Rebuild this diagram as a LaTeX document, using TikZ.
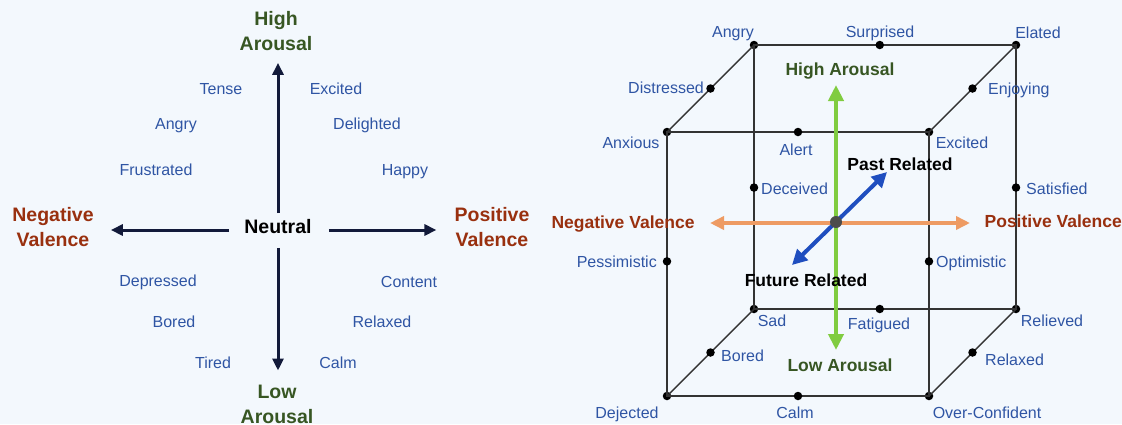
\documentclass[tikz,border=0pt]{standalone}
\usepackage{fontspec}
\setmainfont{Liberation Sans}
\usetikzlibrary{arrows.meta,calc}
\definecolor{bgc}{HTML}{F3F8FD}
\definecolor{lblblue}{HTML}{2F55A4}
\definecolor{dgreen}{HTML}{375623}
\definecolor{dred}{HTML}{99300F}
\definecolor{navyc}{HTML}{121A3A}
\definecolor{garrow}{HTML}{80CC40}
\definecolor{oarrow}{HTML}{EE9B63}
\definecolor{barrow}{HTML}{1F4EBF}
\definecolor{edgec}{HTML}{333333}
\tikzset{
  lbl/.style={font=\fontsize{16}{19}\selectfont, text=lblblue, inner sep=0pt, text height=0.72em, text depth=0pt, yshift=-3pt},
  bigl/.style={font=\bfseries\fontsize{19.5}{25}\selectfont, align=center, inner sep=0pt},
  cubel/.style={font=\bfseries\fontsize{17.5}{21}\selectfont, inner sep=0pt, text height=0.72em, text depth=0pt, yshift=-3pt},
  navyarr/.style={draw=navyc, line width=3pt, -{Triangle[length=12pt,width=11pt]}},
  vtx/.style={circle, fill=black, inner sep=0pt, minimum size=8.5pt},
  cedge/.style={draw=edgec, line width=1.4pt},
  garr/.style={draw=garrow, line width=4.5pt, {Triangle[length=16pt,width=15pt]}-{Triangle[length=16pt,width=15pt]}},
  oarr/.style={draw=oarrow, line width=4pt, {Triangle[length=14pt,width=13pt]}-{Triangle[length=14pt,width=13pt]}},
  barr/.style={draw=barrow, line width=4pt, {Triangle[length=15pt,width=15pt]}-{Triangle[length=15pt,width=15pt]}},
}
\begin{document}
\begin{tikzpicture}[x=1pt,y=-1pt]
\fill[bgc] (0,0) rectangle (1122,424);
\useasboundingbox (0,0) rectangle (1122,424);

% ---------------- Left panel ----------------
\node[bigl, text=dgreen] (hi) at (276,31) {High\\Arousal};
\node[bigl, text=black, text height=0.72em, text depth=0pt, yshift=-3pt] (neu) at (278,227) {Neutral};
\node[bigl, text=dgreen] (lo) at (277,404) {Low\\Arousal};
\node[bigl, text=dred] (neg) at (53,227) {Negative\\Valence};
\node[bigl, text=dred] (pos) at (492,227) {Positive\\Valence};

\draw[navyarr, shorten <=13pt, shorten >=12pt] (neu.north) -- (neu.north |- hi.south);
\draw[navyarr, shorten <=14pt, shorten >=14pt] (neu.south) -- (neu.south |- lo.north);
\draw[navyarr, shorten <=15pt, shorten >=17pt] (neu.west) -- (neu.west -| neg.east);
\draw[navyarr, shorten <=17pt, shorten >=18pt] (neu.east) -- (neu.east -| pos.west);

\node[lbl] (l1) at (221,88) {Tense};
\node[lbl] (l2) at (336,88) {Excited};
\node[lbl] (l3) at (176,123) {Angry};
\node[lbl] (l4) at (367,123) {Delighted};
\node[lbl] (l5) at (156,169) {Frustrated};
\node[lbl] (l6) at (405,169) {Happy};
\node[lbl] (l7) at (158,280) {Depressed};
\node[lbl] (l8) at (409,281) {Content};
\node[lbl] (l9) at (174,321) {Bored};
\node[lbl] (l10) at (382,321) {Relaxed};
\node[lbl] (l11) at (213,362) {Tired};
\node[lbl] (l12) at (338,362) {Calm};

% ---------------- Right panel (cube) ----------------
% back face
\node[vtx] (BTL) at (754,45) {};
\node[vtx] (BTR) at (1016,45) {};
\node[vtx] (BBL) at (754,309) {};
\node[vtx] (BBR) at (1016,309) {};
% front face
\node[vtx] (FTL) at (667,132) {};
\node[vtx] (FTR) at (929,132) {};
\node[vtx] (FBL) at (667,396) {};
\node[vtx] (FBR) at (929,396) {};

\draw[cedge] (BTL.center) -- (BTR.center) -- (BBR.center) -- (BBL.center) -- cycle;
\draw[cedge] (FTL.center) -- (FTR.center) -- (FBR.center) -- (FBL.center) -- cycle;
\draw[cedge] (FTL.center) -- (BTL.center);
\draw[cedge] (FTR.center) -- (BTR.center);
\draw[cedge] (FBL.center) -- (BBL.center);
\draw[cedge] (FBR.center) -- (BBR.center);

% edge dots
\node[vtx] (dSur) at ($(BTL)!0.48!(BTR)$) {};
\node[vtx] (dDis) at ($(FTL)!0.5!(BTL)$) {};
\node[vtx] (dEnj) at ($(FTR)!0.5!(BTR)$) {};
\node[vtx] (dAle) at ($(FTL)!0.5!(FTR)$) {};
\node[vtx] (dDec) at ($(BTL)!0.54!(BBL)$) {};
\node[vtx] (dSat) at ($(BTR)!0.54!(BBR)$) {};
\node[vtx] (dPes) at ($(FTL)!0.49!(FBL)$) {};
\node[vtx] (dOpt) at ($(FTR)!0.49!(FBR)$) {};
\node[vtx] (dFat) at ($(BBL)!0.48!(BBR)$) {};
\node[vtx] (dBor) at ($(FBL)!0.5!(BBL)$) {};
\node[vtx] (dRel) at ($(FBR)!0.5!(BBR)$) {};
\node[vtx] (dCal) at ($(FBL)!0.5!(FBR)$) {};

% cube labels
\node[lbl] at (733,31) {Angry};
\node[lbl] at (880,31) {Surprised};
\node[lbl] at (1038,32) {Elated};
\node[lbl, anchor=east] at (704,87) {Distressed};
\node[lbl, anchor=west] at (988,88) {Enjoying};
\node[lbl] at (631,142) {Anxious};
\node[lbl] at (796,149) {Alert};
\node[lbl] at (962,142) {Excited};
\node[lbl, anchor=west] at (761,188) {Deceived};
\node[lbl, anchor=west] at (1026,188) {Satisfied};
\node[lbl, anchor=east] at (657,261) {Pessimistic};
\node[lbl, anchor=west] at (936,261) {Optimistic};
\node[lbl] at (772,320) {Sad};
\node[lbl] at (879,323) {Fatigued};
\node[lbl] at (1052,320) {Relieved};
\node[lbl, anchor=west] at (721,355) {Bored};
\node[lbl, anchor=west] at (985,359) {Relaxed};
\node[lbl] at (627,412) {Dejected};
\node[lbl] at (795,412) {Calm};
\node[lbl] at (987,412) {Over-Confident};

% axes
\coordinate (gTop) at (836,85);
\coordinate (gBot) at (836,350);
\coordinate (oL) at (710,223);
\coordinate (oR) at (970,223);
\coordinate (bP) at (887,172);
\coordinate (bF) at (792,265);
\draw[garr] (gBot) -- (gTop);
\draw[oarr] (oL) -- (oR);
\draw[barr] (bF) -- (bP);
\node[circle, fill=black!70, inner sep=0pt, minimum size=12pt] (ctr) at (836,222) {};

\node[cubel, text=dgreen] at (840,69) {High Arousal};
\node[cubel, text=dgreen] at (840,365) {Low Arousal};
\node[cubel, text=black] at (900,164) {Past Related};
\node[cubel, text=black] at (806,280) {Future Related};
\node[cubel, text=dred] at (623,222) {Negative Valence};
\node[cubel, text=dred, anchor=east] at (1122,221) {Positive Valence};
\end{tikzpicture}
\end{document}
